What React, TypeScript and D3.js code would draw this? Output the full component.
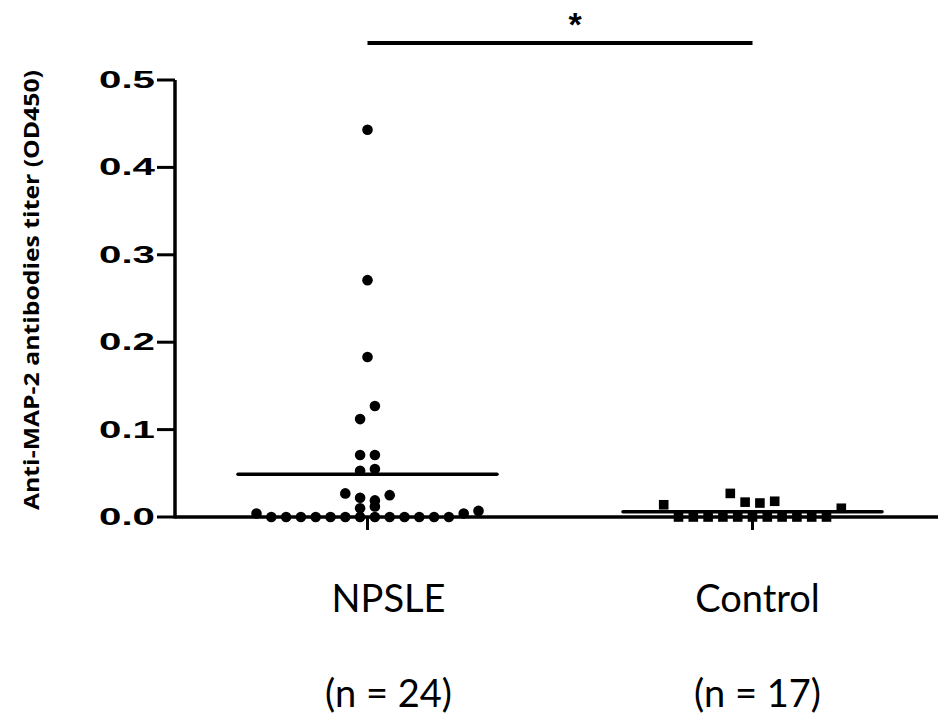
import * as d3 from "d3";

const groups = ["NPSLE", "Control"];
const groupN = ["(n = 24)", "(n = 17)"];

// each row: values that share one horizontal row of the scatter, left to right
const npsleRows = [
  [0.004, 0, 0, 0, 0, 0, 0, 0, 0, 0, 0, 0, 0, 0, 0.004, 0.007],
  [0.01, 0.012],
  [0.027, 0.022, 0.019, 0.025],
  [0.053, 0.055],
  [0.071, 0.071],
  [0.112, 0.127],
  [0.183],
  [0.271],
  [0.443],
];
const controlRows = [
  [0.014, 0, 0, 0, 0, 0, 0, 0, 0, 0, 0, 0, 0.01],
  [0.027, 0.017, 0.016, 0.018],
];
const yTicks = [0, 0.1, 0.2, 0.3, 0.4, 0.5];

const W = 938;
const H = 715;
const SPACING = 14.8;
const FONT_LABEL = "Lato, 'Open Sans', sans-serif";

export default function App() {
  const yScale = d3.scaleLinear().domain([0, 0.5]).range([517, 80]);
  const xScale = d3.scaleBand().domain(groups).range([175, 945]);
  const cx = (g: string) => (xScale(g) ?? 0) + xScale.bandwidth() / 2;

  const layout = (rows: number[][], g: string) =>
    rows.flatMap((row, r) =>
      row.map((v, i) => ({
        key: `${g}-${r}-${i}`,
        x: cx(g) + (i - (row.length - 1) / 2) * SPACING,
        y: yScale(v),
      }))
    );

  const npslePts = layout(npsleRows, "NPSLE");
  const controlPts = layout(controlRows, "Control");
  const means = [
    { g: "NPSLE", v: d3.mean(npsleRows.flat()) ?? 0 },
    { g: "Control", v: d3.mean(controlRows.flat()) ?? 0 },
  ];
  const labelDx = [21, 5];

  const x0 = xScale.range()[0];

  return (
    <svg width={W} height={H} style={{ position: "absolute", left: 0, top: 0 }}>
      <rect width={W} height={H} fill="#fff" />

      {/* y axis */}
      <line x1={x0} x2={x0} y1={yScale(0.5)} y2={yScale(0) + 1.5} stroke="#000" strokeWidth={3.5} />
      {yTicks.map((t) => (
        <g key={t}>
          <line x1={x0 - 18} x2={x0} y1={yScale(t)} y2={yScale(t)} stroke="#000" strokeWidth={3} />
          <text
            transform={`translate(${x0 - 20}, ${yScale(t)}) scale(1.75, 1)`}
            textAnchor="end"
            dominantBaseline="central"
            fontFamily="'Liberation Sans', Arial, sans-serif"
            fontWeight="bold"
            fontSize={23}
          >
            {t.toFixed(1)}
          </text>
        </g>
      ))}
      <text
        transform={`translate(31, ${290}) rotate(-90)`}
        textAnchor="middle"
        dominantBaseline="central"
        fontFamily="'Open Sans', Lato, sans-serif"
        fontWeight="bold"
        fontSize={21}
        textLength={440}
        lengthAdjust="spacingAndGlyphs"
      >
        Anti-MAP-2 antibodies titer (OD450)
      </text>

      {/* x axis */}
      <line x1={x0} x2={W} y1={yScale(0)} y2={yScale(0)} stroke="#000" strokeWidth={3.5} />
      {groups.map((g) => (
        <line key={g} x1={cx(g)} x2={cx(g)} y1={yScale(0)} y2={yScale(0) + 13} stroke="#000" strokeWidth={3} />
      ))}

      {/* mean lines */}
      {means.map((m) => (
        <line
          key={m.g}
          x1={cx(m.g) - 129.5}
          x2={cx(m.g) + 129.5}
          y1={yScale(m.v)}
          y2={yScale(m.v)}
          stroke="#000"
          strokeWidth={3.5}
          strokeLinecap="round"
        />
      ))}

      {/* points */}
      {npslePts.map((p) => (
        <circle key={p.key} cx={p.x} cy={p.y} r={5.3} fill="#000" />
      ))}
      {controlPts.map((p) => (
        <rect key={p.key} x={p.x - 4.8} y={p.y - 4.8} width={9.6} height={9.6} fill="#000" />
      ))}

      {/* significance */}
      <line x1={cx("NPSLE")} x2={cx("Control")} y1={43} y2={43} stroke="#000" strokeWidth={4} />
      <text
        x={575}
        y={36}
        textAnchor="middle"
        fontFamily="'Liberation Sans', Arial, sans-serif"
        fontWeight="bold"
        fontSize={34}
      >
        *
      </text>

      {/* category labels */}
      {groups.map((g, i) => (
        <g key={g} fontFamily={FONT_LABEL} fontSize={38} textAnchor="middle">
          <text x={cx(g) + labelDx[i]} y={612}>
            {g}
          </text>
          <text x={cx(g) + labelDx[i]} y={707}>
            {groupN[i]}
          </text>
        </g>
      ))}
    </svg>
  );
}
